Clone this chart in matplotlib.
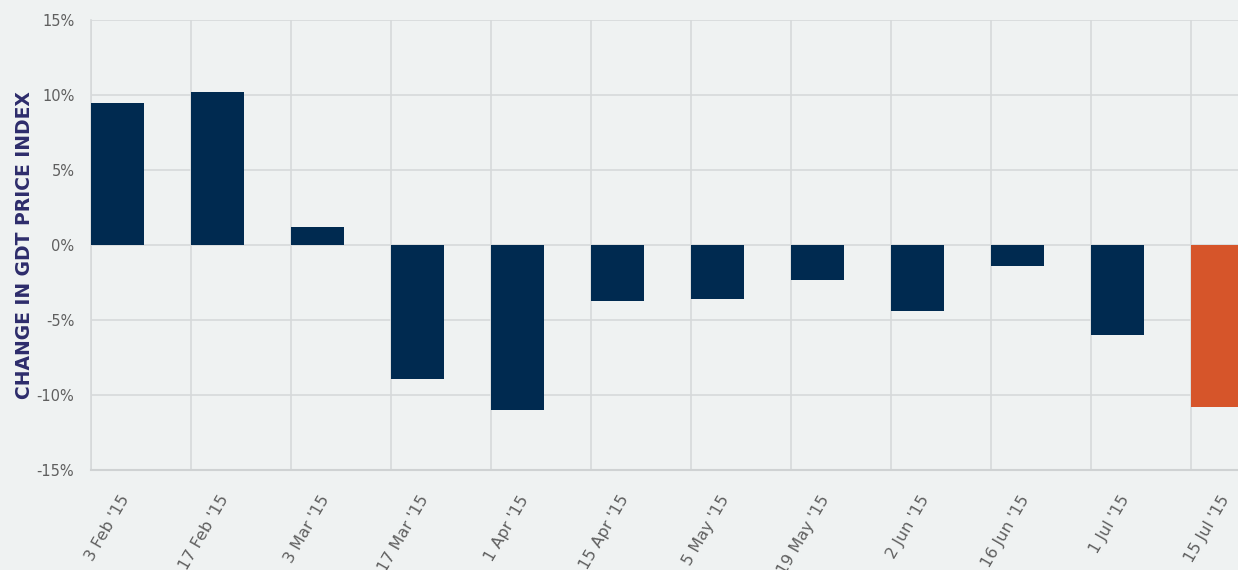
import matplotlib
matplotlib.use("Agg")
import matplotlib.pyplot as plt
import numpy as np
from matplotlib.ticker import FixedLocator, FuncFormatter

dates = ["3 Feb '15", "17 Feb '15", "3 Mar '15", "17 Mar '15", "1 Apr '15", "15 Apr '15",
         "5 May '15", "19 May '15", "2 Jun '15", "16 Jun '15", "1 Jul '15", "15 Jul '15"]
changes = [9.5, 10.2, 1.2, -8.9, -11.0, -3.7, -3.6, -2.3, -4.4, -1.4, -6.0, -10.8]
yticks = [-15, -10, -5, 0, 5, 10, 15]

bg = "#eff2f2"
navy = "#002a50"
orange = "#d6552a"
colors = [navy] * (len(changes) - 1) + [orange]

plt.rcParams['font.family'] = ['DejaVu Sans']

fig = plt.figure(figsize=(12.38, 5.70), dpi=100, facecolor=bg)
ax = fig.add_axes([91/1238, 1 - 470/570, 1 - 91/1238, 450/570])
ax.set_facecolor(bg)

x = np.arange(len(changes))
width = 0.53
ax.bar(x, changes, width=width, align='edge', color=colors, zorder=3)

ax.set_ylim(-15, 15)
ax.set_xlim(0, (1238 - 91) / 100)
ax.set_yticks(yticks)
ax.yaxis.set_major_formatter(FuncFormatter(lambda v, p: f"{int(v)}%"))

ax.set_xticks(x + width / 2 + 0.08)
ax.set_xticklabels(dates, rotation=60, ha='right', va='center', rotation_mode='anchor')
ax.xaxis.set_minor_locator(FixedLocator(x))
ax.tick_params(axis='x', which='major', length=0, pad=19, labelsize=11.5, labelcolor="#5f5f5f")
ax.tick_params(axis='x', which='minor', length=0)
ax.tick_params(axis='y', length=0, pad=12, labelsize=10.5, labelcolor="#5f5f5f")

ax.grid(axis='y', which='major', color="#d6d9da", linewidth=1.2, zorder=0)
ax.grid(axis='x', which='minor', color="#d6d9da", linewidth=1.2, zorder=0)
ax.grid(axis='x', which='major', visible=False)

for s in ['top', 'right']:
    ax.spines[s].set_visible(False)
ax.spines['left'].set_color("#d6d9da")
ax.spines['left'].set_linewidth(1.2)
ax.spines['bottom'].set_color("#cfd2d3")
ax.spines['bottom'].set_linewidth(1.5)

ax.set_ylabel("CHANGE IN GDT PRICE INDEX", fontsize=13.5, fontweight='bold', color="#2d2c6b", labelpad=2)

fig.savefig("out.png", dpi=100, facecolor=bg)
